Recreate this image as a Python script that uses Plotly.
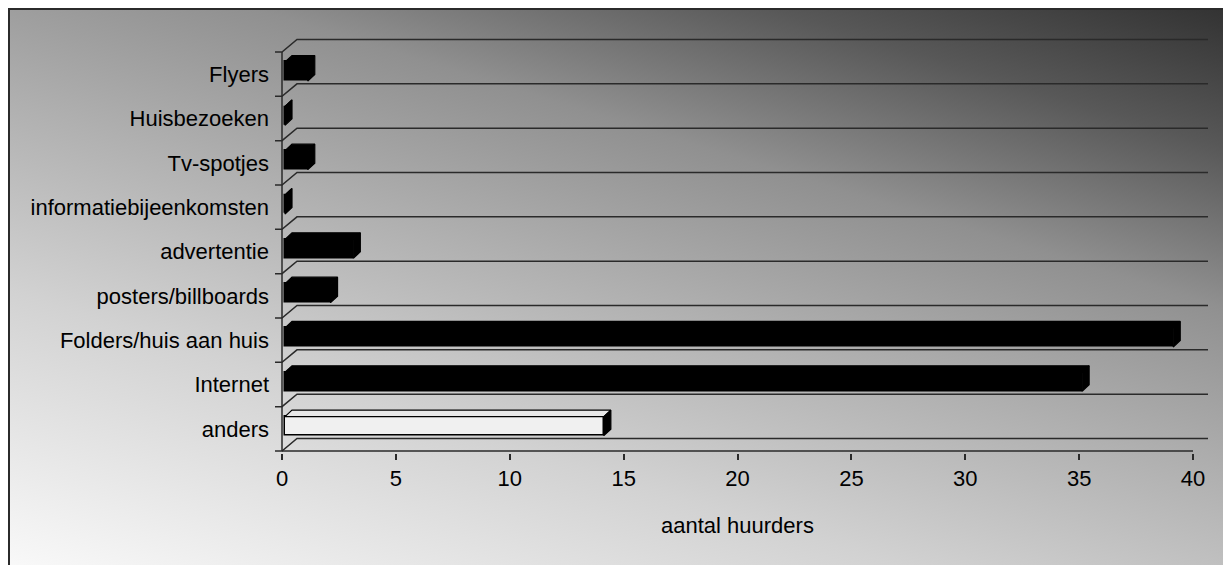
import base64
import plotly.graph_objects as go

# ---- data -------------------------------------------------------------
categories = ["Flyers", "Huisbezoeken", "Tv-spotjes", "informatiebijeenkomsten",
              "advertentie", "posters/billboards", "Folders/huis aan huis",
              "Internet", "anders"]
values = [1, 0, 1, 0, 3, 2, 39, 35, 14]
front_colors = ["#000000"] * 8 + ["#f0f0f0"]
top_colors = ["#000000"] * 8 + ["#e8e8e8"]
side_colors = ["#000000"] * 9
x_ticks = [0, 5, 10, 15, 20, 25, 30, 35, 40]
x_title = "aantal huurders"

# ---- geometry (pixels of the 1223x565 page) ---------------------------
W, H = 1223, 565
X0_PX = 282.0          # pixel column of value 0
X_SCALE = 22.775       # pixels per unit on the value axis
YB_PX = 451.0          # pixel row of the lowest category boundary
Y_SCALE = 44.33        # pixels per category band
WALL_DX, WALL_DY = 15.0, 12.5     # depth of the back wall
FACE_OFF_X, FACE_OFF_Y = 3.0, 2.7 # bar front face set into the depth
FACE_H = 19.0                     # height of a bar front face
BAR_DX, BAR_DY = 7.0, 6.5         # depth of a bar
TICK_LEN = 7.0
LINE_COL = "#2a2a2a"
FONT = dict(family="Liberation Sans, Arial, sans-serif", size=22, color="#000000")

n = len(categories)
rows = [n - 1 - i for i in range(n)]
vmax = max(x_ticks)

ux = lambda px: px / X_SCALE
uy = lambda px: px / Y_SCALE

x_min = -ux(TICK_LEN + 1)
x_max = vmax + ux(WALL_DX + 2)
y_min = -0.5 - uy(1.5)
y_max = n - 0.5 + uy(WALL_DY + 2)

dom_x = [(X0_PX + x_min * X_SCALE) / W, (X0_PX + x_max * X_SCALE) / W]
dom_y = [1 - (YB_PX - (y_min + 0.5) * Y_SCALE) / H,
         1 - (YB_PX - (y_max + 0.5) * Y_SCALE) / H]

fig = go.Figure()

# ---- walls: category ticks, depth diagonals, back grid lines ----------
wx, wy = [], []
ddx, ddy = ux(WALL_DX), uy(WALL_DY)
for k in range(n + 1):
    b = k - 0.5
    wx += [-ux(TICK_LEN), 0, ddx, vmax + ddx, None]
    wy += [b, b, b + ddy, b + ddy, None]
wx += [0, 0, None, 0, vmax, None]
wy += [-0.5, n - 0.5, None, -0.5, -0.5, None]
fig.add_trace(go.Scatter(x=wx, y=wy, mode="lines",
                         line=dict(color=LINE_COL, width=1.5),
                         hoverinfo="skip", showlegend=False))

# ---- bars: front faces -------------------------------------------------
fx, fy = ux(FACE_OFF_X), uy(FACE_OFF_Y)
fig.add_trace(go.Bar(
    y=[r + fy for r in rows], x=values, base=fx, orientation="h",
    width=uy(FACE_H),
    marker=dict(color=front_colors, line=dict(color="#000000", width=1.5)),
    showlegend=False, hoverinfo="skip"))

# ---- bars: top and right faces -----------------------------------------
bdx, bdy = ux(BAR_DX), uy(BAR_DY)
hh = uy(FACE_H) / 2
for r, v, tc, sc in zip(rows, values, top_colors, side_colors):
    x0, x1 = fx, fx + v
    yt, yb = r + fy + hh, r + fy - hh
    fig.add_trace(go.Scatter(
        x=[x0, x0 + bdx, x1 + bdx, x1, x0],
        y=[yt, yt + bdy, yt + bdy, yt, yt],
        mode="lines", fill="toself", fillcolor=tc,
        line=dict(color="#000000", width=1.2),
        hoverinfo="skip", showlegend=False))
    fig.add_trace(go.Scatter(
        x=[x1, x1 + bdx, x1 + bdx, x1, x1],
        y=[yt, yt + bdy, yb + bdy, yb, yt],
        mode="lines", fill="toself", fillcolor=sc,
        line=dict(color="#000000", width=1.2),
        hoverinfo="skip", showlegend=False))

# ---- background gradient and frame -------------------------------------
gw, gh = W + 10, H + 10
stops = [(0.0, "#fafafa"), (0.3, "#d2d2d2"), (0.5, "#b0b0b0"),
         (0.68, "#909090"), (0.85, "#585858"), (1.0, "#323232")]
stop_tags = "".join(f'<stop offset="{o}" stop-color="{c}"/>' for o, c in stops)
svg = (f'<svg xmlns="http://www.w3.org/2000/svg" width="{gw}" height="{gh}" '
       f'viewBox="0 0 {gw} {gh}" preserveAspectRatio="none">'
       '<defs><linearGradient id="g" x1="0" y1="1" x2="0.769" y2="-0.154">'
       f'{stop_tags}</linearGradient></defs>'
       f'<rect x="0" y="0" width="{gw}" height="{gh}" fill="url(#g)"/></svg>')
src = "data:image/svg+xml;base64," + base64.b64encode(svg.encode()).decode()

fig.update_layout(
    width=W, height=H,
    margin=dict(l=0, r=0, t=0, b=0),
    paper_bgcolor="#ffffff", plot_bgcolor="rgba(0,0,0,0)",
    font=FONT, bargap=0,
    images=[dict(source=src, xref="paper", yref="paper",
                 x=9 / W, y=1 - 9 / H, sizex=(gw - 9) / W, sizey=(gh - 9) / H,
                 xanchor="left", yanchor="top", sizing="stretch", layer="below")],
    shapes=[dict(type="rect", xref="paper", yref="paper",
                 x0=9 / W, y0=-10 / H, x1=(W + 10) / W, y1=1 - 9 / H,
                 line=dict(color="#2b2b2b", width=2), fillcolor="rgba(0,0,0,0)",
                 layer="below")],
    xaxis=dict(domain=dom_x, range=[x_min, x_max], tickvals=x_ticks,
               ticktext=[str(t) for t in x_ticks],
               ticks="outside", ticklen=6, tickwidth=1.5, tickcolor=LINE_COL,
               showgrid=False, zeroline=False, showline=False,
               tickfont=FONT, fixedrange=True),
    yaxis=dict(domain=dom_y, range=[y_min, y_max], tickvals=rows,
               ticktext=categories, ticks="", ticklabelstandoff=4,
               showgrid=False, zeroline=False,
               showline=False, tickfont=FONT, fixedrange=True),
    annotations=[dict(text=x_title, x=vmax / 2, xref="x",
                      y=1 - 525 / H, yref="paper", showarrow=False,
                      font=FONT, xanchor="center", yanchor="middle")],
)

fig.write_html("out.html")
